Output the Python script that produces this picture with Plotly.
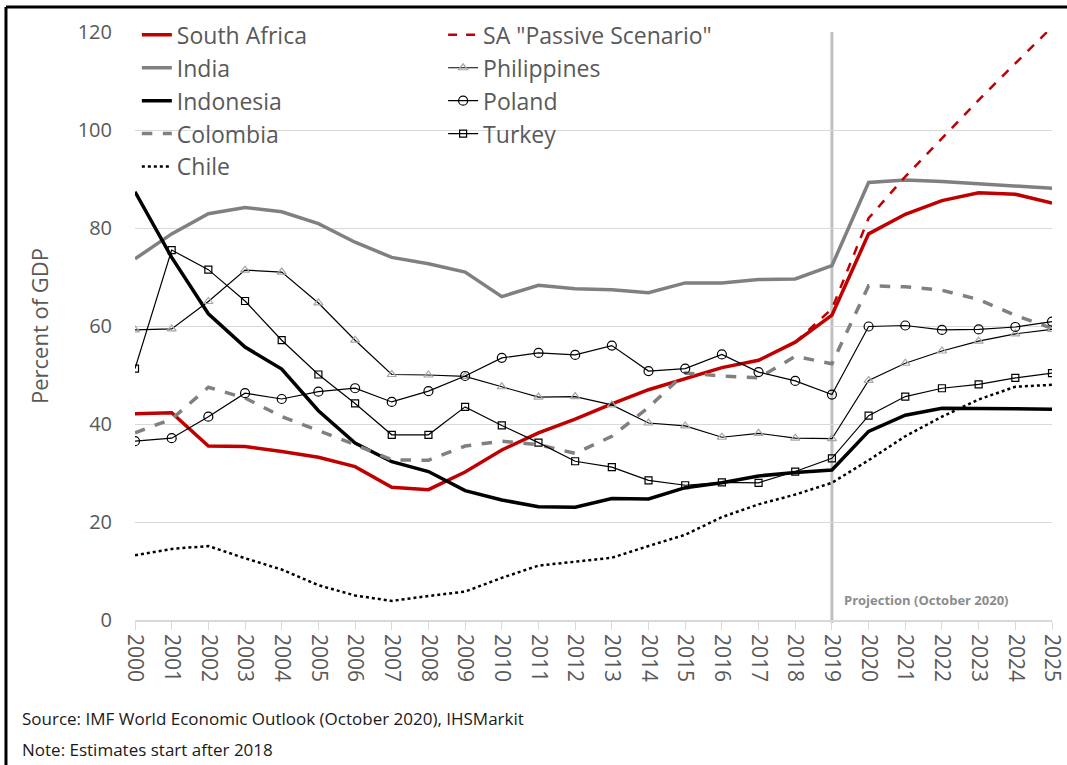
import plotly.graph_objects as go

years = list(range(2000, 2026))

south_africa = [42.1, 42.3, 35.5, 35.4, 34.4, 33.2, 31.3, 27.1, 26.6, 30.2, 34.7, 38.2, 41.0,
                44.1, 47.0, 49.3, 51.5, 53.0, 56.7, 62.2, 78.8, 82.8, 85.6, 87.2, 86.9, 85.1]
passive_years = list(range(2018, 2026))
sa_passive = [56.7, 63.5, 82.0, 90.5, 98.3, 106.1, 113.6, 121.0]
india = [73.7, 78.8, 82.9, 84.2, 83.3, 80.9, 77.1, 74.0, 72.7, 71.0, 66.0, 68.3, 67.6,
         67.4, 66.8, 68.8, 68.8, 69.5, 69.6, 72.3, 89.3, 89.8, 89.5, 89.0, 88.5, 88.1]
indonesia = [87.4, 74.0, 62.5, 55.7, 51.2, 42.7, 36.1, 32.3, 30.3, 26.4, 24.5, 23.1, 23.0,
             24.8, 24.7, 27.0, 28.0, 29.4, 30.1, 30.6, 38.5, 41.8, 43.2, 43.2, 43.1, 43.0]
colombia = [38.2, 41.0, 47.5, 45.3, 41.5, 38.6, 35.8, 32.7, 32.6, 35.5, 36.5, 35.8, 34.0,
            37.5, 43.4, 50.4, 49.8, 49.4, 53.8, 52.3, 68.2, 68.0, 67.3, 65.4, 62.2, 59.5]
chile = [13.2, 14.5, 15.1, 12.6, 10.3, 7.1, 5.0, 3.9, 4.9, 5.8, 8.6, 11.1, 11.9,
         12.7, 15.1, 17.4, 21.0, 23.6, 25.6, 28.0, 32.6, 37.5, 41.5, 45.0, 47.6, 48.0]
philippines = [59.2, 59.4, 65.0, 71.4, 71.0, 64.7, 57.1, 50.1, 50.0, 49.7, 47.6, 45.5, 45.6,
               43.9, 40.2, 39.6, 37.3, 38.1, 37.1, 37.0, 48.9, 52.4, 54.9, 56.9, 58.4, 59.3]
poland = [36.5, 37.1, 41.5, 46.3, 45.1, 46.6, 47.3, 44.5, 46.7, 49.8, 53.5, 54.5, 54.1,
          56.0, 50.8, 51.3, 54.2, 50.6, 48.8, 46.0, 59.9, 60.1, 59.2, 59.3, 59.8, 60.9]
turkey = [51.3, 75.5, 71.5, 65.1, 57.1, 50.1, 44.2, 37.8, 37.8, 43.5, 39.7, 36.2, 32.4,
          31.2, 28.5, 27.5, 28.1, 28.0, 30.3, 33.0, 41.7, 45.6, 47.3, 48.1, 49.4, 50.4]

projection_year = 2019
y_ticks = [0, 20, 40, 60, 80, 100, 120]

FONT = "Open Sans"
TXT = "#595959"

fig = go.Figure()

# column 1 legend
fig.add_trace(go.Scatter(x=years, y=south_africa, name="South Africa", mode="lines",
                         line=dict(color="#c00000", width=3.5), legend="legend"))
fig.add_trace(go.Scatter(x=years, y=india, name="India", mode="lines",
                         line=dict(color="#808080", width=3.5), legend="legend"))
fig.add_trace(go.Scatter(x=years, y=indonesia, name="Indonesia", mode="lines",
                         line=dict(color="#000000", width=3.5), legend="legend"))
fig.add_trace(go.Scatter(x=years, y=colombia, name="Colombia", mode="lines",
                         line=dict(color="#808080", width=3.5, dash="dash"), legend="legend"))
fig.add_trace(go.Scatter(x=years, y=chile, name="Chile", mode="lines",
                         line=dict(color="#000000", width=2.5, dash="dot"), legend="legend"))
# column 2 legend
fig.add_trace(go.Scatter(x=passive_years, y=sa_passive, name='SA "Passive Scenario"', mode="lines",
                         line=dict(color="#c00000", width=2.5, dash="dash"), legend="legend2"))
fig.add_trace(go.Scatter(x=years, y=philippines, name="Philippines", mode="lines+markers",
                         line=dict(color="#000000", width=1.2),
                         marker=dict(symbol="triangle-up-open", size=8, color="#a6a6a6",
                                     line=dict(width=1.2, color="#a6a6a6")),
                         legend="legend2"))
fig.add_trace(go.Scatter(x=years, y=poland, name="Poland", mode="lines+markers",
                         line=dict(color="#000000", width=1.2),
                         marker=dict(symbol="circle-open", size=9, color="#000000",
                                     line=dict(width=1.2)),
                         legend="legend2"))
fig.add_trace(go.Scatter(x=years, y=turkey, name="Turkey", mode="lines+markers",
                         line=dict(color="#000000", width=1.2),
                         marker=dict(symbol="square-open", size=7, color="#000000",
                                     line=dict(width=1.2)),
                         legend="legend2"))

# projection line
fig.add_shape(type="line", xref="x", yref="paper", x0=projection_year, x1=projection_year,
              y0=-0.005, y1=1, line=dict(color="#bfbfbf", width=3), layer="below")
fig.add_annotation(x=projection_year, xref="x", y=4, yref="y", xanchor="left", yanchor="middle",
                   xshift=10, text="<b>Projection (October 2020)</b>", showarrow=False,
                   font=dict(family=FONT, size=13, color="#8c8c8c"))

# outer border (top and left)
fig.add_shape(type="line", xref="paper", yref="paper", x0=-0.1407, x1=1.2, y0=1.0425, y1=1.0425,
              line=dict(color="#000000", width=3))
fig.add_shape(type="line", xref="paper", yref="paper", x0=-0.1407, x1=-0.1407, y0=1.0425, y1=-0.4,
              line=dict(color="#000000", width=3))

fig.add_annotation(xref="paper", yref="paper", x=-0.1254, y=-0.1667, xanchor="left", yanchor="middle",
                   text="Source: IMF World Economic Outlook (October 2020), IHSMarkit", showarrow=False,
                   font=dict(family=FONT, size=17, color="#1a1a1a"))
fig.add_annotation(xref="paper", yref="paper", x=-0.1254, y=-0.221, xanchor="left", yanchor="middle",
                   text="Note: Estimates start after 2018", showarrow=False,
                   font=dict(family=FONT, size=17, color="#1a1a1a"))

legend_common = dict(bgcolor="rgba(0,0,0,0)", font=dict(family=FONT, size=23, color=TXT),
                     itemwidth=30, tracegroupgap=0, yanchor="top", xanchor="left",
                     itemclick=False)
fig.update_layout(
    width=1067, height=765,
    margin=dict(l=135, r=15, t=32, b=145, autoexpand=False),
    paper_bgcolor="white", plot_bgcolor="white",
    font=dict(family=FONT, color=TXT),
    legend=dict(x=0.002, y=1.0316, **legend_common),
    legend2=dict(x=0.336, y=1.0316, **legend_common),
    xaxis=dict(range=[2000, 2025], tickmode="array", tickvals=years, ticktext=[str(y) for y in years],
               tickangle=90, tickfont=dict(family=FONT, size=21, color=TXT),
               ticklabeloverflow="allow", automargin=False,
               showgrid=False, showline=True, linecolor="#d9d9d9", linewidth=1.5,
               ticks="outside", ticklen=8, tickcolor="#d9d9d9", zeroline=False),
    yaxis=dict(range=[0, 120], tickvals=y_ticks, tickfont=dict(family=FONT, size=20, color=TXT),
               automargin=False,
               showgrid=True, gridcolor="#d9d9d9", gridwidth=1, zeroline=False,
               title=dict(text="Percent of GDP", font=dict(family=FONT, size=22, color=TXT), standoff=22),
               ticks="", ticklabelstandoff=22),
)

fig.write_html("out.html", config={"displayModeBar": False},
               post_script="document.body.style.margin='0';document.body.style.padding='0';")
